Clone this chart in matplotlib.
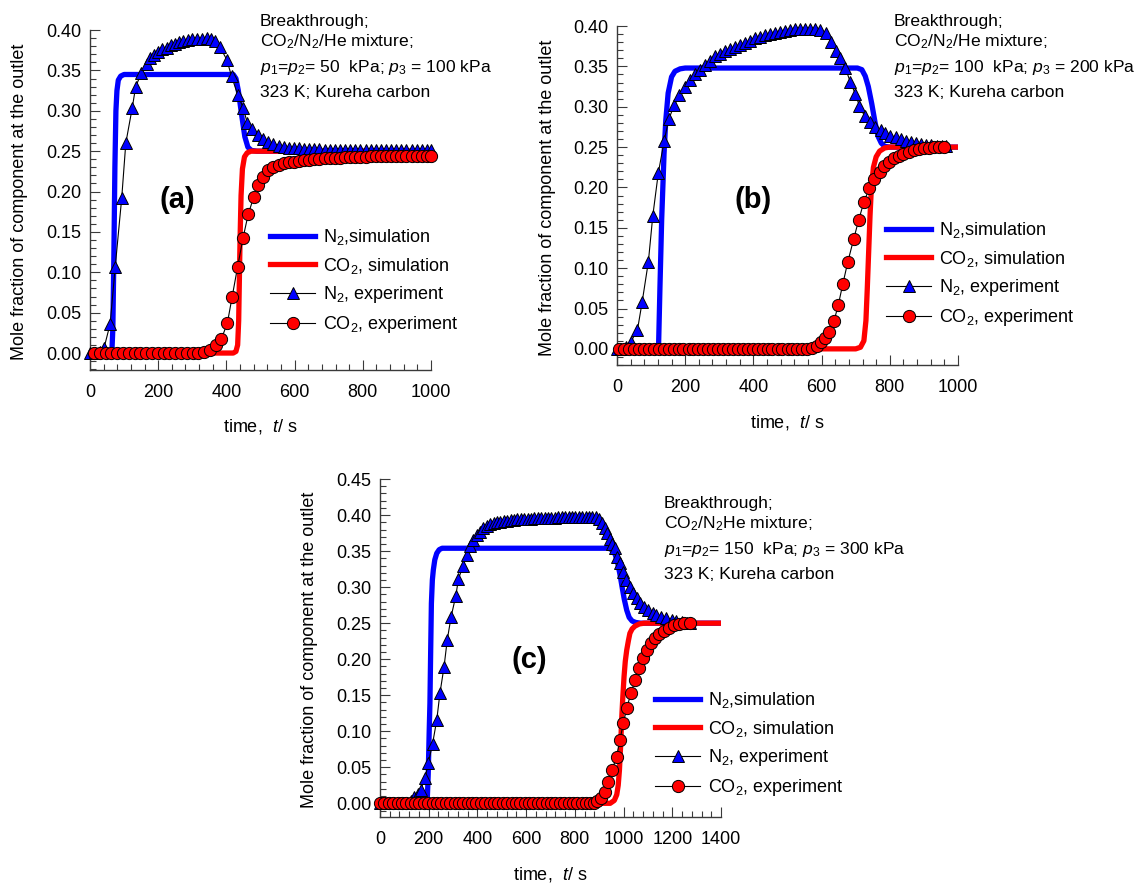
import matplotlib
matplotlib.use("Agg")
import matplotlib.pyplot as plt
from matplotlib.ticker import MultipleLocator, FormatStrFormatter

plt.rcParams['font.family'] = ['Liberation Sans', 'DejaVu Sans']
plt.rcParams['mathtext.fontset'] = 'custom'
plt.rcParams['mathtext.rm'] = 'Liberation Sans'
plt.rcParams['mathtext.it'] = 'Liberation Sans:italic'
plt.rcParams['mathtext.bf'] = 'Liberation Sans:bold'

# ---------------- data ----------------
# panel (a): p1=p2=50 kPa
A_N2_SIM_T = [0, 64, 67, 70, 73, 76, 79, 83, 90, 100, 420, 428, 435, 444, 454, 463, 473, 490, 1000]
A_N2_SIM_Y = [0.0, 0.0, 0.03, 0.12, 0.23, 0.30, 0.325, 0.338, 0.343, 0.345, 0.345, 0.34, 0.325,
              0.297, 0.268, 0.255, 0.251, 0.25, 0.25]
A_CO2_SIM_T = [0, 420, 428, 433, 436, 438, 440, 443, 447, 453, 461, 472, 1000]
A_CO2_SIM_Y = [0.0, 0.0, 0.002, 0.01, 0.04, 0.09, 0.14, 0.195, 0.228, 0.243, 0.248, 0.25, 0.25]
A_N2_EXP_T = [0, 14, 28, 41, 59, 74, 93, 105, 124, 134,
              151, 166, 176, 189, 200, 212, 225, 237, 249, 262,
              274, 288, 300, 313, 327, 342, 355, 368, 381, 401,
              415, 433, 450, 461, 476, 492, 508, 523, 538, 553,
              568, 583, 598, 613, 628, 643, 658, 673, 688, 703,
              718, 733, 748, 763, 778, 793, 808, 823, 838, 853,
              868, 883, 898, 913, 928, 943, 958, 973, 988, 1000]
A_N2_EXP_Y = [0.0, 0.0, 0.001, 0.006, 0.036, 0.107, 0.192, 0.260, 0.304, 0.330,
              0.347, 0.358, 0.365, 0.369, 0.373, 0.376, 0.378, 0.381, 0.383, 0.385,
              0.387, 0.388, 0.389, 0.3895, 0.3895, 0.390, 0.3895, 0.387, 0.379, 0.3635,
              0.343, 0.320, 0.303, 0.285, 0.277, 0.270, 0.265, 0.2615, 0.259, 0.257,
              0.2555, 0.2545, 0.254, 0.2535, 0.253, 0.2527, 0.2524, 0.2521, 0.2518, 0.2516,
              0.2514, 0.2512, 0.2511, 0.251, 0.251, 0.251, 0.251, 0.251, 0.251, 0.251,
              0.251, 0.251, 0.251, 0.251, 0.251, 0.251, 0.251, 0.251, 0.251, 0.251]
A_CO2_EXP_T = [12, 29, 46, 63, 80, 97, 114, 131, 148, 165,
               182, 199, 216, 233, 250, 267, 284, 301, 318, 335,
               352, 370, 385, 403, 417, 433, 449, 464, 480, 494,
               508, 523, 538, 553, 568, 583, 598, 613, 628, 643,
               658, 673, 688, 703, 718, 733, 748, 763, 778, 793,
               808, 823, 838, 853, 868, 883, 898, 913, 928, 943,
               958, 973, 988, 1000]
A_CO2_EXP_Y = [0.0, 0.0, 0.0, 0.0, 0.0, 0.0, 0.0, 0.0, 0.0, 0.0,
               0.0, 0.0, 0.0, 0.0, 0.0, 0.0, 0.0, 0.0, 0.0, 0.001,
               0.004, 0.010, 0.017, 0.0375, 0.070, 0.107, 0.143, 0.172, 0.193, 0.208,
               0.218, 0.2265, 0.231, 0.2335, 0.235, 0.236, 0.237, 0.238, 0.2388, 0.2395,
               0.240, 0.2405, 0.241, 0.2414, 0.2418, 0.2421, 0.2424, 0.2427, 0.243, 0.2432,
               0.2434, 0.2436, 0.2437, 0.2438, 0.2439, 0.244, 0.244, 0.2441, 0.2442, 0.2442,
               0.2443, 0.2443, 0.2444, 0.2444]

# panel (b): p1=p2=100 kPa
B_N2_SIM_T = [0, 118, 122, 126, 131, 138, 143, 150, 160, 170, 185, 200,
              705, 718, 728, 737, 747, 757, 766, 775, 785, 800, 1000]
B_N2_SIM_Y = [0.0, 0.0, 0.005, 0.077, 0.16, 0.242, 0.283, 0.317, 0.337, 0.344, 0.347, 0.348,
              0.348, 0.346, 0.338, 0.325, 0.304, 0.28, 0.263, 0.255, 0.251, 0.25, 0.25]
B_CO2_SIM_T = [0, 700, 714, 724, 730, 734, 738, 742, 746, 752, 760, 770, 785, 800, 1000]
B_CO2_SIM_Y = [0.0, 0.0, 0.002, 0.01, 0.035, 0.075, 0.12, 0.165, 0.2, 0.225, 0.238, 0.245,
               0.249, 0.25, 0.25]
B_N2_EXP_T = [0, 13, 27, 41, 60, 74, 92, 105, 121, 138,
              152, 168, 183, 199, 214, 229, 243, 258, 273, 287,
              302, 317, 331, 346, 361, 376, 390, 405, 420, 434,
              449, 463, 478, 493, 508, 522, 537, 551, 566, 581,
              596, 613, 627, 642, 655, 670, 684, 699, 711, 726,
              741, 756, 773, 787, 802, 817, 832, 847, 862, 877,
              892, 907, 922, 937, 952, 965]
B_N2_EXP_Y = [0.0, 0.0, 0.002, 0.009, 0.0235, 0.0586, 0.108, 0.165, 0.2175, 0.257,
              0.285, 0.302, 0.3145, 0.324, 0.333, 0.3405, 0.346, 0.3517, 0.357, 0.363,
              0.366, 0.3695, 0.372, 0.374, 0.3765, 0.3793, 0.3818, 0.3847, 0.3868, 0.3889,
              0.3901, 0.3918, 0.393, 0.3942, 0.395, 0.3959, 0.396, 0.396, 0.396, 0.3959,
              0.395, 0.391, 0.3806, 0.3695, 0.360, 0.3476, 0.331, 0.3158, 0.301, 0.2885,
              0.2815, 0.275, 0.2712, 0.267, 0.2642, 0.262, 0.2595, 0.2575, 0.256, 0.2548,
              0.2538, 0.253, 0.2524, 0.2518, 0.2513, 0.251]
B_CO2_EXP_T = [7, 21, 36, 50, 65, 79, 94, 108, 123, 137,
               152, 166, 181, 195, 210, 224, 239, 253, 268, 282,
               297, 311, 326, 340, 355, 369, 384, 398, 413, 427,
               442, 456, 471, 485, 500, 514, 529, 543, 558, 572,
               586, 599, 610, 622, 636, 649, 662, 677, 694, 709,
               724, 740, 755, 770, 784, 798, 812, 826, 840, 855,
               870, 885, 900, 915, 930, 945, 960]
B_CO2_EXP_Y = [0.0, 0.0, 0.0, 0.0, 0.0, 0.0, 0.0, 0.0, 0.0, 0.0,
               0.0, 0.0, 0.0, 0.0, 0.0, 0.0, 0.0, 0.0, 0.0, 0.0,
               0.0, 0.0, 0.0, 0.0, 0.0, 0.0, 0.0, 0.0, 0.0, 0.0,
               0.0, 0.0, 0.0, 0.0, 0.0, 0.0, 0.0, 0.0, 0.0003, 0.001,
               0.004, 0.008, 0.013, 0.021, 0.034, 0.0545, 0.080, 0.108, 0.136, 0.160,
               0.182, 0.199, 0.210, 0.2196, 0.227, 0.232, 0.236, 0.2395, 0.242, 0.2443,
               0.246, 0.2475, 0.2487, 0.2495, 0.2499, 0.25, 0.25]

# panel (c): p1=p2=150 kPa
C_N2_SIM_T = [0, 190, 194, 198, 202, 205, 208, 211, 215, 219, 225, 233, 243, 255,
              940, 955, 966, 976, 985, 994, 1003, 1013, 1023, 1035, 1050, 1070, 1400]
C_N2_SIM_Y = [0.0, 0.0, 0.005, 0.04, 0.10, 0.139, 0.21, 0.2775, 0.31, 0.324, 0.338, 0.347, 0.352, 0.354,
              0.354, 0.351, 0.345, 0.333, 0.318, 0.300, 0.283, 0.268, 0.258, 0.253, 0.251, 0.25, 0.25]
C_CO2_SIM_T = [0, 945, 962, 972, 978, 983, 988, 992, 997, 1002, 1007, 1013, 1020, 1026,
               1035, 1047, 1065, 1085, 1400]
C_CO2_SIM_Y = [0.0, 0.0, 0.004, 0.012, 0.025, 0.046, 0.08, 0.1156, 0.148, 0.176, 0.197, 0.2127,
               0.226, 0.236, 0.242, 0.246, 0.249, 0.25, 0.25]
C_N2_EXP_T = [0, 14, 28, 42, 56, 70, 84, 98, 112, 127,
              141, 155, 167, 185, 198, 216, 233, 246, 263, 276,
              292, 311, 322, 340, 356, 370, 383, 397, 411, 424,
              438, 452, 466, 480, 494, 508, 522, 536, 550, 564,
              578, 592, 606, 620, 634, 648, 662, 676, 690, 704,
              718, 732, 746, 760, 774, 788, 802, 816, 830, 844,
              858, 872, 886, 900, 911, 922, 932, 943, 954, 964,
              974, 985, 999, 1010, 1026, 1040, 1054, 1069, 1085, 1101,
              1119, 1135, 1155, 1176, 1197, 1217, 1238, 1259, 1273]
C_N2_EXP_Y = [0.0, 0.0, 0.0, 0.0, 0.0, 0.0, 0.0, 0.0, 0.0, 0.003,
              0.009, 0.013, 0.019, 0.035, 0.0555, 0.083, 0.1156, 0.1526, 0.1896, 0.2266,
              0.259, 0.2876, 0.311, 0.329, 0.3445, 0.357, 0.365, 0.3724, 0.377, 0.3815,
              0.3845, 0.387, 0.3885, 0.390, 0.391, 0.392, 0.3925, 0.393, 0.3935, 0.394,
              0.3943, 0.3946, 0.3949, 0.3952, 0.3954, 0.3956, 0.3958, 0.396, 0.3962, 0.3964,
              0.3966, 0.3968, 0.397, 0.3972, 0.3974, 0.3976, 0.3978, 0.398, 0.398, 0.398,
              0.398, 0.398, 0.3975, 0.394, 0.3885, 0.382, 0.3746, 0.367, 0.360, 0.3538,
              0.342, 0.333, 0.3214, 0.310, 0.3006, 0.2914, 0.2845, 0.2775, 0.273, 0.268,
              0.2645, 0.261, 0.259, 0.2565, 0.2543, 0.2534, 0.252, 0.2506, 0.2506]
C_CO2_EXP_T = [0, 18, 36, 54, 72, 90, 108, 126, 144, 162,
               180, 198, 216, 234, 252, 270, 288, 306, 324, 342,
               360, 378, 396, 414, 432, 450, 468, 486, 504, 522,
               540, 558, 576, 594, 612, 630, 648, 666, 684, 702,
               720, 738, 756, 774, 792, 810, 828, 846, 864, 878,
               892, 906, 922, 936, 953, 971, 985, 999, 1013, 1030,
               1047, 1062, 1079, 1095, 1111, 1129, 1147, 1166, 1187, 1207,
               1228, 1248, 1273]
C_CO2_EXP_Y = [0.0, 0.0, 0.0, 0.0, 0.0, 0.0, 0.0, 0.0, 0.0, 0.0,
               0.0, 0.0, 0.0, 0.0, 0.0, 0.0, 0.0, 0.0, 0.0, 0.0,
               0.0, 0.0, 0.0, 0.0, 0.0, 0.0, 0.0, 0.0, 0.0, 0.0,
               0.0, 0.0, 0.0, 0.0, 0.0, 0.0, 0.0, 0.0, 0.0, 0.0,
               0.0, 0.0, 0.0, 0.0, 0.0, 0.0, 0.0, 0.0, 0.0005, 0.001,
               0.003, 0.007, 0.016, 0.030, 0.046, 0.0647, 0.0878, 0.111, 0.132, 0.1526,
               0.171, 0.1873, 0.201, 0.2127, 0.222, 0.229, 0.235, 0.2395, 0.2437, 0.247,
               0.2488, 0.2497, 0.2506]

LABELS = ['N$_2$,simulation', 'CO$_2$, simulation', 'N$_2$, experiment', 'CO$_2$, experiment']
NOTES_A = ['Breakthrough;', 'CO$_2$/N$_2$/He mixture;',
           '$p_1$=$p_2$= 50  kPa; $p_3$ = 100 kPa', '323 K; Kureha carbon']
NOTES_B = ['Breakthrough;', 'CO$_2$/N$_2$/He mixture;',
           '$p_1$=$p_2$= 100  kPa; $p_3$ = 200 kPa', '323 K; Kureha carbon']
NOTES_C = ['Breakthrough;', 'CO$_2$/N$_2$He mixture;',
           '$p_1$=$p_2$= 150  kPa; $p_3$ = 300 kPa', '323 K; Kureha carbon']
YLABEL = 'Mole fraction of component at the outlet'
XLABEL = 'time,  $t$/ s'

BLUE = '#0000ff'
RED = '#ff0000'
AXIS_C = '#3a3a3a'
FS = 13
NOTE_FS = 12.6

W, H = 1140, 883
fig = plt.figure(figsize=(W / 100, H / 100), dpi=100)


def box(left, top, right, bottom):
    return [left / W, 1 - bottom / H, (right - left) / W, (bottom - top) / H]


def fpos(x, y):
    return (x / W, 1 - y / H)


def make_panel(rect, xmax, ylow, ytop, sims, exps, leg_xy, notes, note_x, note_y,
               tag, tag_xy):
    ax = fig.add_axes(box(*rect))
    ax.set_xlim(0, xmax)
    ax.set_ylim(ylow, ytop)
    for s in ('top', 'right'):
        ax.spines[s].set_visible(False)
    for s in ('left', 'bottom'):
        ax.spines[s].set_color(AXIS_C)
        ax.spines[s].set_linewidth(1.0)
    ax.xaxis.set_major_locator(MultipleLocator(200))
    ax.xaxis.set_minor_locator(MultipleLocator(40))
    ax.yaxis.set_major_locator(MultipleLocator(0.05))
    ax.yaxis.set_minor_locator(MultipleLocator(0.01))
    ax.yaxis.set_major_formatter(FormatStrFormatter('%.2f'))
    ax.tick_params(which='both', direction='in', color=AXIS_C, width=0.8, labelsize=FS)
    ax.tick_params(which='major', length=7)
    ax.tick_params(which='minor', length=4.5)
    ax.tick_params(axis='x', pad=10)
    ax.tick_params(axis='y', pad=6)

    (n2s_t, n2s_y), (co2s_t, co2s_y) = sims
    (n2e_t, n2e_y), (co2e_t, co2e_y) = exps
    ax.plot(n2s_t, n2s_y, color=BLUE, lw=3.8, solid_joinstyle='round', zorder=2, label=LABELS[0])
    ax.plot(co2s_t, co2s_y, color=RED, lw=3.8, solid_joinstyle='round', zorder=2.1, label=LABELS[1])
    ax.plot(n2e_t, n2e_y, color='black', lw=0.8, marker='^', ms=8.6, mfc=BLUE, mec='black',
            mew=0.7, zorder=3, clip_on=False, label=LABELS[2])
    ax.plot(co2e_t, co2e_y, color='black', lw=0.8, marker='o', ms=8.8, mfc=RED, mec='black',
            mew=0.7, zorder=4, clip_on=False, label=LABELS[3])

    ax.legend(loc='upper left', bbox_to_anchor=fpos(*leg_xy), bbox_transform=fig.transFigure,
              frameon=False, fontsize=FS, handlelength=2.5, handletextpad=0.45,
              labelspacing=0.48, borderpad=0, borderaxespad=0, numpoints=1)

    for line, yb in zip(notes, note_y):
        fig.text(*fpos(note_x, yb), line, fontsize=NOTE_FS, ha='left', va='baseline')

    fig.text(*fpos(*tag_xy), tag, fontsize=21, fontweight='bold', ha='center', va='center')

    left, top, right, bottom = rect
    fig.text(*fpos(left - 70, (top + bottom) / 2 + 2), YLABEL, fontsize=FS, rotation=90,
             ha='center', va='center')
    fig.text(*fpos((left + right) / 2, bottom + 57), XLABEL, fontsize=FS, ha='center', va='center')
    return ax


make_panel((90, 30, 431, 370), 1000, -0.021, 0.4001,
           ((A_N2_SIM_T, A_N2_SIM_Y), (A_CO2_SIM_T, A_CO2_SIM_Y)),
           ((A_N2_EXP_T, A_N2_EXP_Y), (A_CO2_EXP_T, A_CO2_EXP_Y)),
           (270, 227), NOTES_A, 260, (26, 46, 72, 97), '(a)', (177, 200))

make_panel((617, 26, 958, 365), 1000, -0.02, 0.4001,
           ((B_N2_SIM_T, B_N2_SIM_Y), (B_CO2_SIM_T, B_CO2_SIM_Y)),
           ((B_N2_EXP_T, B_N2_EXP_Y), (B_CO2_EXP_T, B_CO2_EXP_Y)),
           (886, 220), NOTES_B, 894, (26, 46, 72, 97), '(b)', (753, 200))

make_panel((380, 479, 721, 817), 1400, -0.019, 0.4501,
           ((C_N2_SIM_T, C_N2_SIM_Y), (C_CO2_SIM_T, C_CO2_SIM_Y)),
           ((C_N2_EXP_T, C_N2_EXP_Y), (C_CO2_EXP_T, C_CO2_EXP_Y)),
           (655, 690), NOTES_C, 664, (508, 528, 554, 579), '(c)', (529, 660))

fig.savefig('out.png', dpi=100, facecolor='white')
